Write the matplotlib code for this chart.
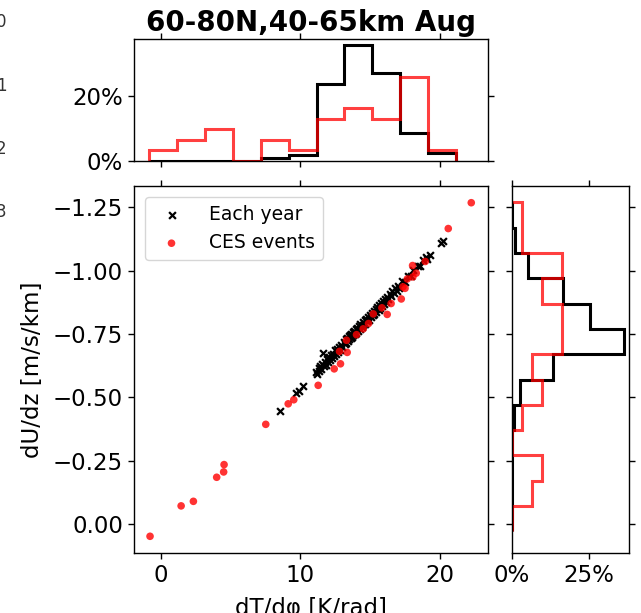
import matplotlib
matplotlib.use("Agg")
import matplotlib.pyplot as plt
from matplotlib.ticker import PercentFormatter

# ---------------- data ----------------
# "Each year" points: dT/dphi [K/rad], dU/dz [m/s/km]
year_x = [8.50, 9.70, 9.90, 10.20,
          11.10, 11.20, 11.30, 11.35, 11.40, 11.50, 11.55, 11.60, 11.70, 11.75,
          11.80, 11.90, 12.00, 12.05, 12.10, 12.20, 12.25, 12.30, 12.40, 12.50,
          12.55, 12.60, 12.70, 12.75, 12.80, 12.90, 13.00, 13.10,
          13.20, 13.25, 13.30, 13.35, 13.40, 13.45, 13.50, 13.55, 13.60, 13.65,
          13.70, 13.75, 13.80, 13.85, 13.90, 13.95, 14.00, 14.05, 14.10, 14.20,
          14.25, 14.30, 14.40, 14.45, 14.50, 14.60, 14.65, 14.70, 14.80, 14.85,
          14.90, 15.00, 15.05, 15.10,
          15.20, 15.25, 15.30, 15.40, 15.45, 15.50, 15.60, 15.65, 15.70, 15.80,
          15.85, 15.90, 16.00, 16.05, 16.10, 16.20, 16.30, 16.40, 16.50, 16.60,
          16.70, 16.80, 16.90, 17.00, 17.10,
          17.30, 17.50, 17.70, 17.90, 18.10, 18.40, 18.60, 18.80, 19.00, 19.10,
          19.30, 20.05, 20.20]
year_y = [-0.447, -0.515, -0.525, -0.545,
          -0.600, -0.590, -0.615, -0.605, -0.625, -0.612, -0.632, -0.675, -0.622, -0.640,
          -0.628, -0.650, -0.640, -0.660, -0.648, -0.668, -0.655, -0.672, -0.664, -0.685,
          -0.670, -0.690, -0.680, -0.700, -0.688, -0.708, -0.698, -0.718,
          -0.710, -0.728, -0.715, -0.735, -0.722, -0.740, -0.728, -0.745, -0.732, -0.750,
          -0.738, -0.756, -0.744, -0.762, -0.750, -0.768, -0.755, -0.772, -0.760, -0.782,
          -0.768, -0.788, -0.778, -0.796, -0.784, -0.805, -0.790, -0.810, -0.800, -0.818,
          -0.806, -0.826, -0.815, -0.832,
          -0.824, -0.842, -0.830, -0.850, -0.838, -0.856, -0.846, -0.864, -0.852, -0.872,
          -0.860, -0.878, -0.870, -0.887, -0.875, -0.896, -0.886, -0.906, -0.898, -0.918,
          -0.910, -0.930, -0.920, -0.940, -0.932,
          -0.958, -0.955, -0.980, -0.978, -1.003, -1.020, -1.018, -1.040, -1.052, -1.047,
          -1.060, -1.109, -1.118]

# "CES events" points
ces_x = [-0.79, 1.44, 2.32, 3.99, 4.49, 4.52, 7.51, 9.12, 9.52, 11.27, 12.42,
         12.87, 12.80, 13.35, 13.30, 14.02, 14.50, 14.88, 15.22, 15.84, 16.22,
         16.50, 17.23, 17.35, 17.50, 17.66, 18.06, 18.04, 18.30, 18.95, 20.60, 22.25]
ces_y = [0.049, -0.071, -0.089, -0.184, -0.205, -0.234, -0.393, -0.474, -0.490,
         -0.547, -0.612, -0.632, -0.681, -0.677, -0.725, -0.747, -0.770, -0.791,
         -0.829, -0.853, -0.827, -0.870, -0.888, -0.936, -0.930, -0.967, -0.975,
         -1.020, -0.990, -1.036, -1.166, -1.268]

# top histogram (percent per dT/dphi bin)
top_edges = [-0.85, 1.15, 3.15, 5.15, 7.15, 9.15, 11.15, 13.15, 15.15, 17.15, 19.15, 21.15]
top_year_pct = [0, 0, 0, 0, 0.85, 1.7, 23.7, 35.6, 27.1, 8.5, 2.5]
top_ces_pct = [3.2, 6.5, 9.7, 0, 6.5, 3.2, 12.9, 16.1, 12.9, 25.8, 3.2]

# right histogram (percent per dU/dz bin)
right_edges = [-1.27, -1.17, -1.07, -0.97, -0.87, -0.77, -0.67, -0.57, -0.47,
               -0.37, -0.27, -0.17, -0.07, 0.03]
right_year_pct = [0, 1.1, 5.1, 16.5, 25.2, 36.3, 13.3, 2.5, 0.8, 0, 0, 0, 0]
right_ces_pct = [3.2, 3.2, 16.1, 9.7, 16.1, 16.1, 6.5, 9.7, 3.2, 0, 9.7, 6.5, 0]

title = "60-80N,40-65km Aug"
xlabel = "dT/d\u03c6 [K/rad]"
ylabel = "dU/dz [m/s/km]"
leftover_digits = ["0", "1", "2", "3"]

# ---------------- figure ----------------
W, H = 641, 613
fig = plt.figure(figsize=(W / 100, H / 100), dpi=100)
FS = 16.5

def box(l, t, r, b):
    return [l / W, 1 - b / H, (r - l) / W, (b - t) / H]

ax = fig.add_axes(box(134, 186, 488, 553))
ax_top = fig.add_axes(box(134, 39.3, 488, 160.7), sharex=ax)
ax_right = fig.add_axes(box(512, 186, 629, 553), sharey=ax)

red = (1.0, 0.0, 0.0)
ax.scatter(year_x, year_y, marker="x", s=24, c="k", linewidths=1.6,
           label="Each year", zorder=2)
ax.scatter(ces_x, ces_y, marker="o", s=30, c=[red], alpha=0.8,
           edgecolors="none", label="CES events", zorder=3)

ax.set_xlim(-1.94, 23.45)
ax.set_ylim(0.115, -1.334)
ax.set_xticks([0, 10, 20])
ax.set_yticks([-1.25, -1.0, -0.75, -0.5, -0.25, 0.0])
ax.set_xlabel(xlabel, fontsize=FS, labelpad=7)
ax.set_ylabel(ylabel, fontsize=FS, labelpad=6)
leg = ax.legend(loc="upper left", fontsize=13.5, borderaxespad=0.6,
                handletextpad=1.0, framealpha=0.8)

# top histogram
ax_top.stairs(top_year_pct, top_edges, color="k", lw=2.2)
ax_top.stairs(top_ces_pct, top_edges, color=red, lw=2.2, alpha=0.75)
ax_top.set_ylim(0, 37.4)
ax_top.set_yticks([0, 20])
ax_top.yaxis.set_major_formatter(PercentFormatter(decimals=0))
ax_top.set_title(title, fontsize=20, fontweight="bold", pad=6)

# right histogram
ax_right.stairs(right_year_pct, right_edges, color="k", lw=2.2,
                orientation="horizontal")
ax_right.stairs(right_ces_pct, right_edges, color=red, lw=2.2, alpha=0.75,
                orientation="horizontal")
ax_right.set_xlim(0, 37.9)
ax_right.set_xticks([0, 25])
ax_right.xaxis.set_major_formatter(PercentFormatter(decimals=0))

for a in (ax, ax_top, ax_right):
    a.tick_params(direction="out", top=True, right=True, labelsize=FS,
                  length=4.5, width=1.0)
    for sp in a.spines.values():
        sp.set_linewidth(1.0)
ax_top.tick_params(axis="x", labelbottom=False)
ax_right.tick_params(axis="y", labelleft=False)

# fragments of a neighbouring panel's tick labels, clipped at the left edge
for txt, yc in zip(leftover_digits, [22, 86, 149, 212]):
    fig.text(6.5 / W, 1 - yc / H, txt, ha="right", va="center",
             fontsize=12, color="#333333")

fig.savefig("out.png", dpi=100)
